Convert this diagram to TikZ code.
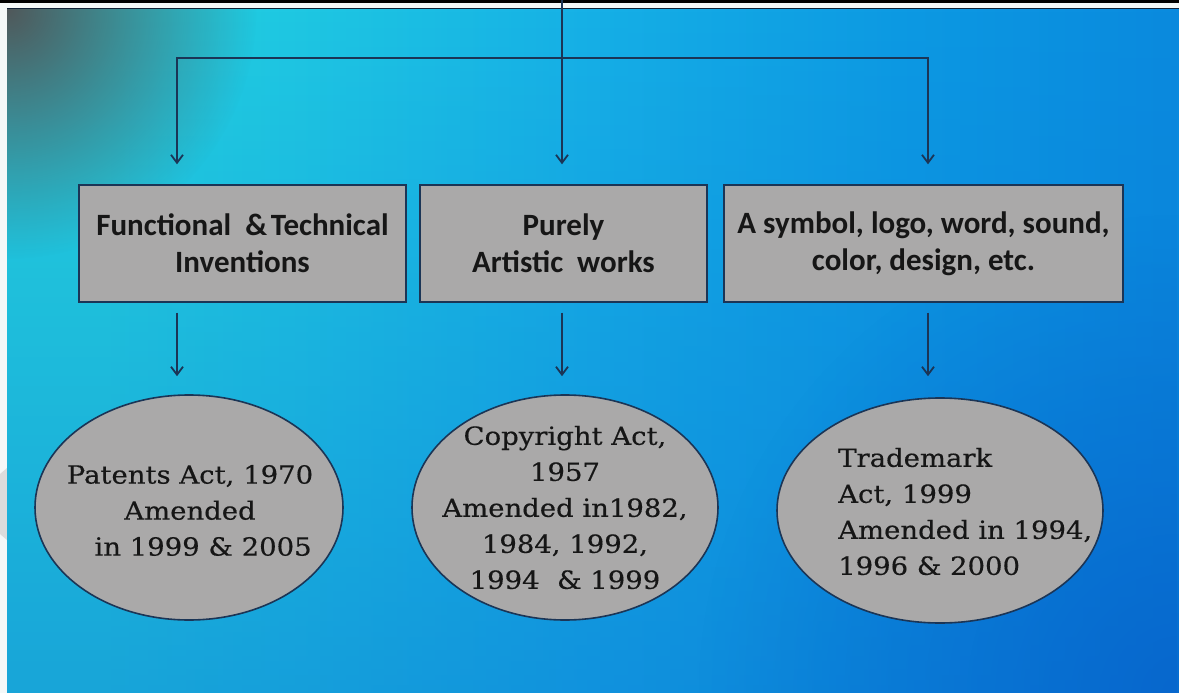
\documentclass[tikz,border=0pt]{standalone}
\usepackage{fontspec}
\usetikzlibrary{shapes.geometric,arrows.meta,fadings}
\newfontfamily\boxfont{Carlito}
\newfontfamily\actfont[FakeStretch=1.1,FakeBold=0.4]{DejaVu Serif}

\definecolor{bgcyan}{HTML}{24D2DE}
\definecolor{bgcyanb}{HTML}{1FC8E2}
\definecolor{bgmid}{HTML}{16B0E6}
\definecolor{bgblue}{HTML}{0D9AE3}
\definecolor{bgdeep}{HTML}{0A8ADE}
\definecolor{cornergray}{HTML}{50585A}
\definecolor{deepblue}{HTML}{0558C6}
\definecolor{floorblue}{HTML}{0A6ED2}
\definecolor{linecol}{HTML}{1B3556}
\definecolor{cardfill}{HTML}{AAA9A9}
\definecolor{inkcol}{HTML}{161616}
\definecolor{stripwhite}{HTML}{F4F8F8}
\definecolor{chevron}{HTML}{DCDCDC}

\pgfdeclarehorizontalshading{backdrop}{100bp}{%
  color(0bp)=(bgcyan); color(29bp)=(bgcyan); color(37bp)=(bgcyanb);
  color(50bp)=(bgmid); color(63bp)=(bgblue); color(75bp)=(bgdeep);
  color(100bp)=(bgdeep)}
\tikzfading[name=softspot, inner color=transparent!0, outer color=transparent!100]
\tikzfading[name=risefade, top color=transparent!100, bottom color=transparent!0]

\tikzset{
  card/.style={draw=linecol, line width=1.4pt, fill=cardfill, rectangle,
    inner sep=0pt, minimum height=117pt, align=center, text=inkcol,
    font=\boxfont\bfseries\fontsize{31}{37}\selectfont},
  act/.style={draw=linecol, line width=1.6pt, fill=cardfill, ellipse,
    inner sep=0pt, minimum height=225pt},
  acttext/.style={text=inkcol, inner sep=0pt,
    font=\actfont\fontsize{25}{36}\selectfont},
  link/.style={draw=linecol, line width=1.8pt},
  arrowlink/.style={link, -{Straight Barb[length=8pt,width=12pt]}}
}

\begin{document}
\begin{tikzpicture}[x=1pt,y=-1pt]
  \useasboundingbox (0,0) rectangle (1179,693);
  % page frame: white margin, black top rule
  \fill[stripwhite] (0,0) rectangle (1179,693);
  \fill[black] (0,0) rectangle (1179,3);
  \fill[chevron] (0,474) -- (7,468) -- (7,540) -- (0,534) -- cycle;

  % slide background
  \shade[shading=backdrop] (7,8.5) rectangle (1179,693);
  \begin{scope}
    \clip (7,8.5) rectangle (1179,693);
    \fill[floorblue, opacity=0.45, path fading=risefade] (7,8.5) rectangle (1179,693);
    \fill[cornergray, path fading=softspot] (7,9) circle (250);
    \fill[deepblue, path fading=softspot, opacity=0.6] (1179,693) circle (480);
  \end{scope}
  \draw[linecol!60!black, line width=0.8pt] (7,8.8) -- (1179,8.8);

  % category boxes
  \node[card, minimum width=327pt] (b1) at (242.5,243.5)
    {Functional\ \ \&\hspace{0.12em}Technical\\Inventions};
  \node[card, minimum width=287pt] (b2) at (563.5,243.5)
    {Purely\\Artistic\ \ works};
  \node[card, minimum width=399pt] (b3) at (923.5,243.5)
    {A symbol, logo, word, sound,\\color, design, etc.};

  % statute ellipses
  \node[act, minimum width=308pt] (e1) at (189,507.5) {};
  \node[act, minimum width=306pt] (e2) at (565,507.5) {};
  \node[act, minimum width=326pt] (e3) at (940,510.5) {};

  \node[acttext, align=center] (e1t) at (190,510.5)
    {Patents Act, 1970\\Amended\\\ \ \ in 1999 \& 2005};
  \node[acttext, align=center] (e2t) at (565,507.5)
    {Copyright Act,\\1957\\Amended in1982,\\1984, 1992,\\1994\ \ \& 1999};
  \node[acttext, align=left, anchor=west] (e3t) at (838,511.5)
    {Trademark\\Act, 1999\\Amended in 1994,\\1996 \& 2000};

  % connectors from the top
  \coordinate (src) at (562,0);
  \coordinate (hub) at (562,58);
  \coordinate (t1) at ([xshift=-65.5pt]b1.north);
  \coordinate (t2) at ([xshift=-1.5pt]b2.north);
  \coordinate (t3) at ([xshift=4.5pt]b3.north);
  \draw[link] (src) -- (hub);
  \draw[arrowlink, shorten >=20pt] (hub) -| (t1);
  \draw[arrowlink, shorten >=20pt] (hub) -- (t2);
  \draw[arrowlink, shorten >=20pt] (hub) -| (t3);

  % connectors from boxes to ellipses
  \coordinate (s1) at ([xshift=-65.5pt]b1.south);
  \coordinate (s2) at ([xshift=-1.5pt]b2.south);
  \coordinate (s3) at ([xshift=4.5pt]b3.south);
  \draw[arrowlink, shorten <=10pt, shorten >=18pt] (s1) -- (s1 |- e1.north);
  \draw[arrowlink, shorten <=10pt, shorten >=18pt] (s2) -- (s2 |- e2.north);
  \draw[arrowlink, shorten <=10pt, shorten >=21pt] (s3) -- (s3 |- e3.north);
\end{tikzpicture}
\end{document}
